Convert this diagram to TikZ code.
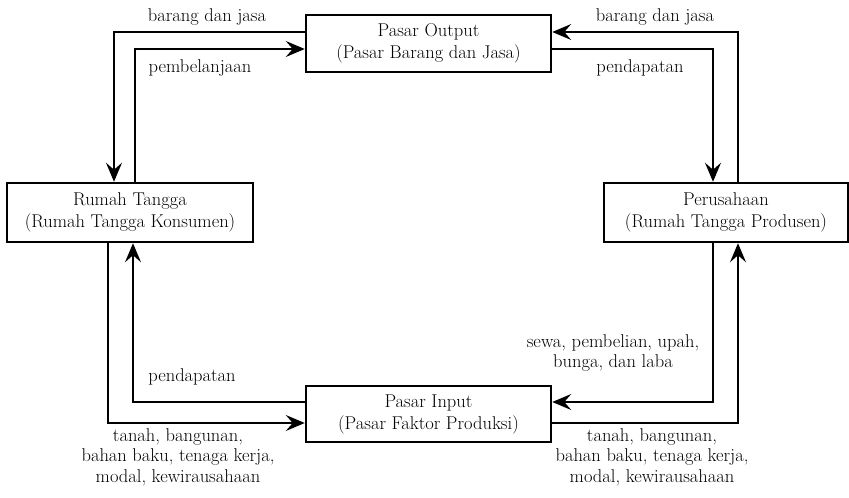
\documentclass[tikz,border=0pt]{standalone}
\usepackage{fontspec}
\usetikzlibrary{arrows.meta}
\begin{document}
\begin{tikzpicture}[x=1pt,y=-1pt,
  box/.style={draw, line width=2.5pt, inner sep=0pt, align=center, font=\fontsize{18.5}{22}\selectfont},
  flow/.style={draw, line width=1.1pt, -{Stealth[length=19pt,width=16pt,inset=7pt]}},
  lbl/.style={align=center, inner sep=0pt, font=\fontsize{18.5}{20.5}\selectfont}]
\useasboundingbox (0,0) rectangle (849,498);
\node[box, minimum width=245pt, minimum height=57pt] (out) at (428.5,43.5) {Pasar Output\\(Pasar Barang dan Jasa)};
\node[box, minimum width=246pt, minimum height=59pt] (rt) at (130,212.5) {Rumah Tangga\\(Rumah Tangga Konsumen)};
\node[box, minimum width=244pt, minimum height=59pt] (pr) at (726,212.5) {Perusahaan\\(Rumah Tangga Produsen)};
\node[box, minimum width=245pt, minimum height=56pt] (inp) at (428.5,414) {Pasar Input\\(Pasar Faktor Produksi)};
% top-left
\coordinate (a1) at (114,32);
\coordinate (a2) at (135,49);
\draw[flow] (out.west |- a1) -- (a1) -- (a1 |- rt.north);
\draw[flow] (a2 |- rt.north) -- (a2) -- (out.west |- a2);
% top-right
\coordinate (b1) at (738,32);
\coordinate (b2) at (713,49);
\draw[flow] (b1 |- pr.north) -- (b1) -- (out.east |- b1);
\draw[flow] (out.east |- b2) -- (b2) -- (b2 |- pr.north);
% bottom-left
\coordinate (c1) at (108,423);
\coordinate (c2) at (133,402);
\draw[flow] (c1 |- rt.south) -- (c1) -- (inp.west |- c1);
\draw[flow] (inp.west |- c2) -- (c2) -- (c2 |- rt.south);
% bottom-right
\coordinate (d1) at (713,402);
\coordinate (d2) at (738,423);
\draw[flow] (d1 |- pr.south) -- (d1) -- (inp.east |- d1);
\draw[flow] (inp.east |- d2) -- (d2) -- (d2 |- pr.south);
% labels
\node[lbl] (l1) at (207,17) {barang dan jasa};
\node[lbl] (l2) at (200,68) {pembelanjaan};
\node[lbl] (l3) at (655,17) {barang dan jasa};
\node[lbl] (l4) at (640,68) {pendapatan};
\node[lbl] (l5) at (192,377) {pendapatan};
\node[lbl] (l6) at (613,353) {sewa, pembelian, upah,\\bunga, dan laba};
\node[lbl] (l7) at (178,457) {tanah, bangunan,\\bahan baku, tenaga kerja,\\modal, kewirausahaan};
\node[lbl] (l8) at (652,457) {tanah, bangunan,\\bahan baku, tenaga kerja,\\modal, kewirausahaan};
\end{tikzpicture}
\end{document}
